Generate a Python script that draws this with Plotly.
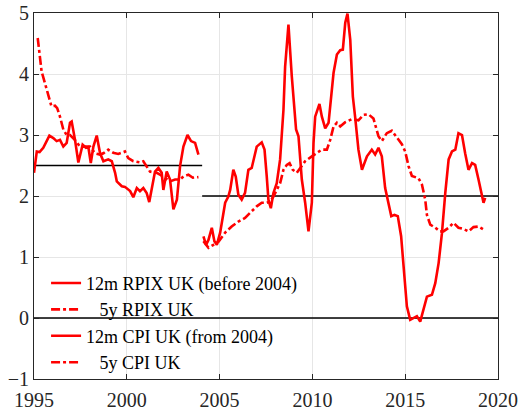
import plotly.graph_objects as go

# 12m RPIX inflation, before 2004
rpix_12m_x = [1995.0, 1995.15, 1995.3, 1995.5, 1995.83, 1996.04, 1996.22, 1996.4, 1996.58, 1996.76,
              1996.94, 1997.03, 1997.21, 1997.39, 1997.62, 1997.8, 1997.93, 1998.06, 1998.2, 1998.38,
              1998.56, 1998.74, 1999.0, 1999.19, 1999.37, 1999.46, 1999.73, 1999.9, 2000.18, 2000.35,
              2000.54, 2000.71, 2000.89, 2001.07, 2001.21, 2001.34, 2001.52, 2001.7, 2001.88, 2001.97,
              2002.15, 2002.33, 2002.51, 2002.7, 2002.87, 2003.05, 2003.27, 2003.46, 2003.68, 2003.86]
rpix_12m_y = [2.38, 2.73, 2.72, 2.79, 2.99, 2.95, 2.9, 2.92, 2.81, 2.87,
              3.2, 3.22, 2.92, 2.55, 2.84, 2.79, 2.8, 2.54, 2.81, 2.99,
              2.7, 2.57, 2.6, 2.57, 2.38, 2.24, 2.16, 2.15, 2.08, 1.98,
              2.13, 2.08, 2.13, 2.05, 1.9, 2.1, 2.4, 2.46, 2.38, 2.1,
              2.4, 2.27, 1.78, 1.94, 2.49, 2.81, 3.0, 2.9, 2.87, 2.68]

# 5y RPIX inflation, before 2004
rpix_5y_x = [1995.2, 1995.29, 1995.41, 1995.59, 1995.77, 1995.94, 1996.13, 1996.25, 1996.4, 1996.58,
             1996.76, 1996.94, 1997.2, 1997.48, 1997.75, 1998.02, 1998.29, 1998.56, 1998.74, 1999.0,
             1999.27, 1999.54, 1999.9, 2000.08, 2000.35, 2000.71, 2000.89, 2001.07, 2001.25, 2001.43,
             2001.61, 2001.79, 2002.06, 2002.33, 2002.6, 2002.87, 2003.05, 2003.32, 2003.56, 2003.86]
rpix_5y_y = [4.59, 4.34, 4.04, 3.85, 3.63, 3.47, 3.48, 3.44, 3.3, 3.09,
             3.0, 3.0, 2.92, 2.81, 2.81, 2.81, 2.7, 2.68, 2.7, 2.76,
             2.71, 2.69, 2.73, 2.62, 2.57, 2.55, 2.57, 2.49, 2.4, 2.39,
             2.38, 2.35, 2.3, 2.24, 2.27, 2.27, 2.32, 2.35, 2.3, 2.31]

# 12m CPI inflation, from 2004
cpi_12m_x = [2004.13, 2004.27, 2004.4, 2004.58, 2004.72, 2004.85, 2005.03, 2005.3, 2005.47, 2005.57,
             2005.74, 2005.87, 2006.01, 2006.19, 2006.37, 2006.55, 2006.73, 2006.88, 2007.0, 2007.27,
             2007.42, 2007.54, 2007.63, 2007.76, 2007.9, 2008.08, 2008.26, 2008.44, 2008.53, 2008.71,
             2008.89, 2009.12, 2009.25, 2009.43, 2009.61, 2009.79, 2009.97, 2010.06, 2010.15, 2010.38,
             2010.51, 2010.69, 2010.87, 2011.14, 2011.32, 2011.5, 2011.64, 2011.77, 2011.89, 2012.04,
             2012.18, 2012.3, 2012.48, 2012.67, 2012.94, 2013.2, 2013.38, 2013.56, 2013.74, 2013.92,
             2014.1, 2014.25, 2014.42, 2014.6, 2014.78, 2014.91, 2015.09, 2015.27, 2015.45, 2015.63,
             2015.81, 2015.99, 2016.17, 2016.44, 2016.62, 2016.8, 2016.98, 2017.16, 2017.34, 2017.52,
             2017.7, 2017.87, 2018.06, 2018.23, 2018.41, 2018.6, 2018.77, 2018.95, 2019.13, 2019.22,
             2019.31]
cpi_12m_y = [1.34, 1.2, 1.28, 1.48, 1.26, 1.2, 1.4, 1.89, 1.99, 2.1,
             2.43, 2.32, 2.02, 1.94, 2.05, 2.43, 2.46, 2.65, 2.81, 2.88,
             2.76, 2.32, 1.94, 1.8, 2.05, 2.21, 2.6, 3.41, 4.12, 4.81,
             3.96, 3.09, 2.98, 2.27, 1.89, 1.42, 1.89, 2.87, 3.3, 3.51,
             3.3, 3.11, 3.2, 4.02, 4.32, 4.39, 4.4, 4.84, 4.99, 4.56,
             3.63, 3.3, 2.76, 2.43, 2.65, 2.76, 2.68, 2.79, 2.65, 2.13,
             1.89, 1.67, 1.69, 1.67, 1.34, 0.85, 0.19, -0.03, 0.0, 0.03,
             -0.06, 0.14, 0.35, 0.38, 0.57, 0.9, 1.39, 2.05, 2.6, 2.73,
             2.76, 3.03, 3.0, 2.7, 2.43, 2.54, 2.51, 2.27, 1.99, 1.89,
             1.97]

# 5y CPI inflation, from 2004
cpi_5y_x = [2004.13, 2004.4, 2004.67, 2004.94, 2005.3, 2005.65, 2006.01, 2006.37, 2006.73, 2007.0,
            2007.27, 2007.54, 2007.72, 2007.9, 2008.08, 2008.26, 2008.44, 2008.62, 2008.77, 2008.94,
            2009.16, 2009.34, 2009.61, 2009.97, 2010.24, 2010.51, 2010.78, 2010.96, 2011.14, 2011.32,
            2011.5, 2011.77, 2012.13, 2012.48, 2012.75, 2013.02, 2013.29, 2013.56, 2013.74, 2014.01,
            2014.28, 2014.55, 2014.82, 2015.0, 2015.18, 2015.36, 2015.72, 2015.9, 2016.08, 2016.17,
            2016.35, 2016.62, 2016.88, 2017.06, 2017.34, 2017.6, 2017.87, 2018.14, 2018.41, 2018.68,
            2018.95, 2019.22]
cpi_5y_y = [1.26, 1.15, 1.2, 1.25, 1.4, 1.5, 1.58, 1.64, 1.75, 1.83,
            1.89, 1.89, 1.91, 1.99, 2.1, 2.21, 2.43, 2.51, 2.54, 2.43,
            2.38, 2.46, 2.57, 2.65, 2.7, 2.76, 2.76, 2.92, 3.14, 3.2,
            3.14, 3.21, 3.26, 3.24, 3.33, 3.34, 3.27, 2.98, 2.9, 3.03,
            3.07, 2.95, 2.85, 2.73, 2.49, 2.33, 2.29, 2.19, 1.94, 1.69,
            1.53, 1.48, 1.42, 1.42, 1.48, 1.56, 1.48, 1.46, 1.42, 1.49,
            1.5, 1.45]

# inflation targets
target_rpix_x = [1995, 2004.06]
target_rpix_y = [2.5, 2.5]
target_cpi_x = [2004.06, 2020]
target_cpi_y = [2, 2]
zero_x = [1995, 2020]
zero_y = [0, 0]

red = "#ff0000"
nb = "\u00a0"
serif = "Liberation Serif, Times New Roman, Times, serif"

fig = go.Figure()

for x, y in [(target_rpix_x, target_rpix_y), (target_cpi_x, target_cpi_y), (zero_x, zero_y)]:
    fig.add_trace(go.Scatter(x=x, y=y, mode="lines", line=dict(color="black", width=1.6),
                             showlegend=False, hoverinfo="skip"))

fig.add_trace(go.Scatter(x=rpix_12m_x, y=rpix_12m_y, mode="lines", name="12m RPIX UK (before 2004)",
                         line=dict(color=red, width=2.6)))
fig.add_trace(go.Scatter(x=rpix_5y_x, y=rpix_5y_y, mode="lines", name=nb * 3 + "5y RPIX UK",
                         line=dict(color=red, width=2.6, dash="dashdot")))
fig.add_trace(go.Scatter(x=cpi_12m_x, y=cpi_12m_y, mode="lines", name="12m CPI UK (from 2004)",
                         line=dict(color=red, width=2.6)))
fig.add_trace(go.Scatter(x=cpi_5y_x, y=cpi_5y_y, mode="lines", name=nb * 3 + "5y CPI UK",
                         line=dict(color=red, width=2.6, dash="dashdot")))

axis_style = dict(showline=True, linecolor="#262626", linewidth=1, mirror="ticks",
                  ticks="inside", ticklen=5, tickcolor="#262626", automargin=False,
                  ticklabeloverflow="allow",
                  showgrid=True, gridcolor="#e6e6e6", gridwidth=1, zeroline=False,
                  tickfont=dict(family=serif, size=20, color="#262626"))

fig.update_xaxes(range=[1995, 2020], dtick=5, tick0=1995, ticklabelstandoff=3, **axis_style)
fig.update_yaxes(range=[-1, 5], dtick=1, **axis_style)

fig.update_layout(
    width=521, height=411,
    margin=dict(l=34, r=23, t=13, b=32),
    plot_bgcolor="white", paper_bgcolor="white",
    font=dict(family=serif, color="black"),
    legend=dict(x=0.026, y=0.312, xanchor="left", yanchor="top",
                bgcolor="rgba(0,0,0,0)", borderwidth=0, tracegroupgap=0,
                font=dict(family=serif, size=18, color="black")),
)

# drop the default page margin so the figure sits at the window's corner
fig.write_html("out.html", config={"displayModeBar": False},
               post_script="document.body.style.margin = '0';")
